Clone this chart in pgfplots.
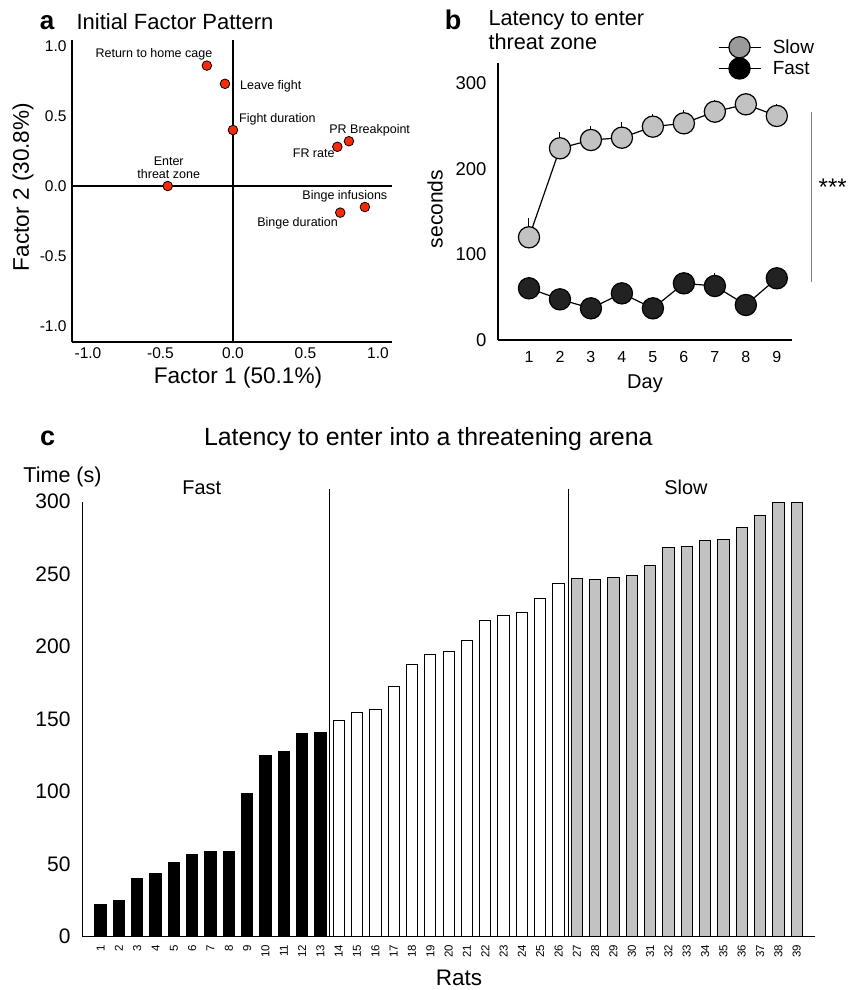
\documentclass[border=0pt]{standalone}
\usepackage{pgfplots}
\pgfplotsset{compat=1.18}
\usepackage{fontspec}
\setmainfont{Liberation Sans}
\definecolor{ptred}{RGB}{250,42,8}
\definecolor{slowgray}{RGB}{194,194,194}
\definecolor{fastgray}{RGB}{34,34,34}
\definecolor{legslow}{RGB}{154,154,154}
\newcommand{\fs}[1]{\fontsize{#1}{#1}\selectfont}

\begin{document}
\begin{tikzpicture}[x=1pt,y=1pt]
\path[use as bounding box] (0,0) rectangle (861,990);

% ---------- panel a ----------
\begin{axis}[
  at={(72pt,648pt)}, anchor=south west, scale only axis,
  width=320pt, height=302pt,
  xmin=-1.11, xmax=1.097, ymin=-1.114, ymax=1.043,
  axis lines=left, axis line style={-, line width=1.5pt},
  major tick length=0pt,
  xtick={-1,-0.5,0,0.5,1}, xticklabels={-1.0,-0.5,0.0,0.5,1.0},
  ytick={-1,-0.5,0,0.5,1}, yticklabels={-1.0,-0.5,0.0,0.5,1.0},
  tick label style={font=\fs{15.5}, inner sep=0pt},
  xticklabel shift=5.7pt, yticklabel shift=5.3pt,
  clip=false,
]
\addplot[black, line width=1.5pt] coordinates {(-1.11,0) (1.097,0)};
\addplot[black, line width=1.5pt] coordinates {(0,-1.114) (0,1.043)};
\addplot[only marks, mark=*, mark size=4.8pt,
  mark options={fill=ptred, draw=black, line width=0.8pt}] coordinates {
  (-0.18,0.86) (-0.055,0.73) (0.0,0.40) (0.80,0.32)
  (0.72,0.28) (-0.45,0.0) (0.91,-0.15) (0.74,-0.19)
};
\node[font=\fs{12.5}] at (axis cs:-0.545,0.943) {Return to home cage};
\node[font=\fs{12.5}, anchor=west] at (axis cs:0.0255,0.714) {Leave fight};
\node[font=\fs{12.5}, anchor=west] at (axis cs:0.0186,0.476) {Fight duration};
\node[font=\fs{12.5}] at (axis cs:0.943,0.40) {PR Breakpoint};
\node[font=\fs{12.5}] at (axis cs:0.557,0.234) {FR rate};
\node[font=\fs{12.5}, align=center] at (axis cs:-0.443,0.131) {Enter\\threat zone};
\node[font=\fs{12.5}] at (axis cs:0.772,-0.076) {Binge infusions};
\node[font=\fs{12.5}] at (axis cs:0.446,-0.266) {Binge duration};
\end{axis}
\node[font=\bfseries\fs{26}, anchor=base] at (47,960.7) {a};
\node[font=\fs{22}, anchor=base west] at (73,960.4) {Initial Factor Pattern};
\node[font=\fs{22.6}] at (238,612) {Factor 1 (50.1\%)};
\node[font=\fs{22.6}, rotate=90] at (23,803) {Factor 2 (30.8\%)};

% ---------- panel b ----------
\begin{axis}[
  at={(498pt,650pt)}, anchor=south west, scale only axis,
  width=294pt, height=277pt,
  xmin=0, xmax=9.49, ymin=0, ymax=323.7,
  axis lines=left, axis line style={-, line width=1.3pt},
  major tick length=0pt,
  xtick={1,...,9}, ytick={0,100,200,300},
  /pgf/number format/assume math mode=true,
  xticklabel style={font=\fs{16}}, yticklabel style={font=\fs{18.5}},
  tick label style={inner sep=0pt},
  xticklabel shift=11.6pt, yticklabel shift=11.3pt,
  clip=false,
  legend style={draw=none, fill=none, inner sep=0pt, row sep=0pt,
    at={(axis description cs:0.7473,1.0957)}, anchor=north west,
    font=\fs{19}, nodes={inner sep=0pt}},
  legend cell align=left,
  legend image code/.code={
    \draw[mark repeat=2, mark phase=2, #1] plot coordinates {(0pt,0pt) (21pt,0pt) (42pt,0pt)};},
]
% error bars (drawn first, behind the markers)
\addplot[forget plot, draw=none, mark=none,
  error bars/.cd, y dir=plus, y explicit, error mark=none,
  error bar style={draw=black, line width=1pt}] coordinates {
  (1,120.0) +- (0,22) (2,224.0) +- (0,19.4) (3,233.7) +- (0,16.3)
  (4,236.4) +- (0,18.4) (5,249.3) +- (0,14.4) (6,253.2) +- (0,15.6)
  (7,266.8) +- (0,13.7) (8,275.4) +- (0,12) (9,261.8) +- (0,13.6)
};
\addplot[forget plot, draw=none, mark=none,
  error bars/.cd, y dir=plus, y explicit, error mark=none,
  error bar style={draw=black, line width=1pt}] coordinates {
  (1,60.4) +- (0,10) (2,47.5) +- (0,10) (3,37.0) +- (0,10)
  (4,54.5) +- (0,11) (5,37.0) +- (0,10) (6,66.2) +- (0,13.6)
  (7,63.1) +- (0,14.8) (8,40.9) +- (0,10) (9,72.1) +- (0,13.6)
};
\addplot[forget plot, black, line width=1.2pt, mark=*, mark size=10.6pt,
  mark options={fill=slowgray, draw=black, line width=1.2pt}] coordinates {
  (1,120.0) (2,224.0) (3,233.7) (4,236.4) (5,249.3)
  (6,253.2) (7,266.8) (8,275.4) (9,261.8)
};
\addplot[forget plot, black, line width=1.2pt, mark=*, mark size=10.6pt,
  mark options={fill=fastgray, draw=black, line width=1.2pt}] coordinates {
  (1,60.4) (2,47.5) (3,37.0) (4,54.5) (5,37.0)
  (6,66.2) (7,63.1) (8,40.9) (9,72.1)
};
\addlegendimage{black, line width=1.2pt, mark=*, mark size=10.6pt,
  mark options={fill=legslow, draw=black, line width=1.2pt}}
\addlegendentry{\hspace{11.7pt}Slow}
\addlegendimage{black, line width=1.2pt, mark=*, mark size=10.6pt,
  mark options={fill=black, draw=black, line width=1.2pt}}
\addlegendentry{\hspace{11.7pt}Fast}
\end{axis}
\node[font=\bfseries\fs{27}, anchor=base] at (453,960) {b};
\node[font=\fs{21.7}, anchor=base west] at (485,964) {Latency to enter};
\node[font=\fs{21.7}, anchor=base west] at (485,940) {threat zone};
\node[font=\fs{21}, rotate=90] at (435,781) {seconds};
\node[font=\fs{20}, anchor=base] at (645,601.7) {Day};
\draw[gray, line width=0.8pt] (811.7,878.3) -- (811.7,708.3);
\node[font=\fs{24}, anchor=base] at (832.7,794.6) {***};

% ---------- panel c ----------
\begin{axis}[
  at={(82.3pt,53.3pt)}, anchor=south west, scale only axis,
  width=732.7pt, height=435pt,
  xmin=0, xmax=40, ymin=0, ymax=300,
  axis lines=left, axis line style={-, line width=1.6pt},
  major tick length=0pt,
  xtick={1,...,39}, ytick={0,50,...,300},
  /pgf/number format/assume math mode=true,
  xticklabel style={font=\fs{11.5}, rotate=90, anchor=east},
  yticklabel style={font=\fs{21}},
  tick label style={inner sep=0pt},
  xticklabel shift=8pt, yticklabel shift=11.6pt,
  clip=false,
]
\addplot[ybar, bar width=11.3pt, bar shift=0pt, fill=black, draw=black, line width=1pt] coordinates {
  (1,22.1) (2,25.3) (3,40.2) (4,43.7) (5,51.5) (6,57.0) (7,58.9)
  (8,58.9) (9,98.9) (10,125.3) (11,127.8) (12,139.8) (13,140.7)
};
\addplot[ybar, bar width=11.3pt, bar shift=0pt, fill=white, draw=black, line width=1pt] coordinates {
  (14,149.2) (15,154.5) (16,157.0) (17,172.6) (18,187.4) (19,194.3) (20,197.0)
  (21,204.6) (22,218.4) (23,221.8) (24,223.4) (25,233.1) (26,243.7)
};
\addplot[ybar, bar width=11.3pt, bar shift=0pt, fill=slowgray, draw=black, line width=1pt] coordinates {
  (27,247.1) (28,246.4) (29,247.8) (30,249.4) (31,255.9) (32,268.5) (33,269.2)
  (34,272.9) (35,273.8) (36,282.1) (37,290.6) (38,299.5) (39,299.5)
};
\addplot[black, line width=1pt] coordinates {(13.52,0) (13.52,309)};
\addplot[black, line width=1pt] coordinates {(26.53,0) (26.53,309)};
\end{axis}
\node[font=\bfseries\fs{27}, anchor=base] at (47.7,544) {c};
\node[font=\fs{24.9}, anchor=base] at (428.3,544) {Latency to enter into a threatening arena};
\node[font=\fs{21.5}] at (62.5,513) {Time (s)};
\node[font=\fs{19.9}, anchor=base] at (201.7,495) {Fast};
\node[font=\fs{19.9}, anchor=base] at (686,495) {Slow};
\node[font=\fs{22.5}, anchor=base] at (459,4.6) {Rats};
\end{tikzpicture}
\end{document}
